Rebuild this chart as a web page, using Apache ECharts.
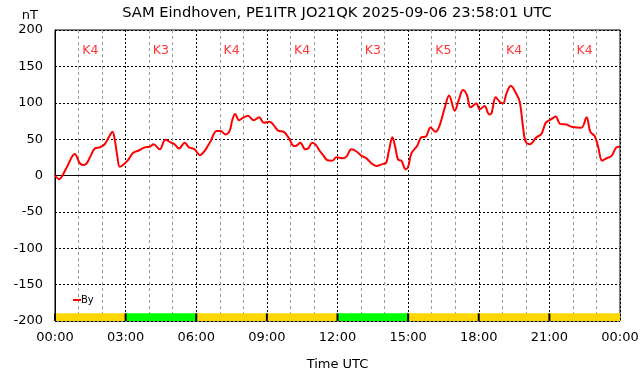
<!DOCTYPE html>
<html>
<head>
<meta charset="utf-8">
<script src="https://cdn.jsdelivr.net/npm/echarts@6/dist/echarts.min.js"></script>
<style>
  html, body { margin: 0; padding: 0; background: #fff; }
  #main { width: 642px; height: 376px; }
</style>
</head>
<body>
<div id="main"></div>
<script>
// By component (nT), time in hours UTC
var byTimes = [0, 0.17, 0.48, 0.84, 1.05, 1.19, 1.33, 1.5, 1.69, 1.9, 2.11, 2.29, 2.44, 2.54, 2.65, 2.75, 2.89,
  3.1, 3.31, 3.53, 3.81, 4.02, 4.19, 4.45, 4.69, 4.94, 5.08, 5.27, 5.51, 5.69, 5.93,
  6.15, 6.36, 6.6, 6.86, 7.03, 7.25, 7.42, 7.53, 7.65, 7.82, 7.99, 8.2, 8.44, 8.67, 8.87,
  9.12, 9.34, 9.48, 9.72, 9.94, 10.11, 10.22, 10.42, 10.63, 10.75, 10.93, 11.08, 11.24, 11.39, 11.57, 11.78,
  11.95, 12.21, 12.38, 12.59, 12.81, 13.02, 13.23, 13.44, 13.65, 13.93, 14.05, 14.19, 14.33, 14.45, 14.57, 14.71, 14.9,
  15.0, 15.14, 15.38, 15.56, 15.75, 15.95, 16.17, 16.34, 16.56, 16.74, 16.98, 17.16, 17.33, 17.5, 17.65, 17.9,
  18.04, 18.25, 18.44, 18.54, 18.72, 18.89, 19.03, 19.18, 19.36, 19.6, 19.74, 19.88, 19.99, 20.17, 20.45, 20.66, 20.85,
  21.09, 21.27, 21.45, 21.73, 21.94, 22.36, 22.58, 22.74, 22.93, 23.07, 23.24, 23.42, 23.64, 23.85, 24];
var byValues = [0, -5, 10, 29.5, 17, 14.5, 16, 26, 37, 38.7, 43, 53, 60, 49, 26, 12, 14.5,
  21, 31, 34, 38.7, 39.6, 43, 36, 49, 45, 43, 37, 45, 38.7, 36,
  28, 34, 46.5, 61, 61, 56.5, 61.6, 76, 84.5, 76, 79.5, 82, 76, 80, 72.6,
  74, 67, 61.6, 60, 51, 41, 40.5, 45, 36, 37, 45, 42, 34, 28, 21, 20.4,
  25, 23.6, 26, 36, 33, 27, 23.6, 16.7, 13, 16, 16.7, 35, 52.5, 39.6, 22, 20.4, 8.5,
  12, 30.5, 40.5, 52.5, 53.4, 66, 60, 69, 93.7, 110, 89, 104.7, 117.5, 110.6, 93.7, 99,
  91, 95.5, 84, 85.5, 107.4, 101.5, 99, 113, 123.5, 112, 101.5, 67, 46.5, 43, 52.5, 57, 72.6,
  77.6, 81, 71, 70, 67, 65.7, 80, 60, 54, 39.6, 20.4, 23.6, 27, 38.7, 39.6];

// 3-hour K index blocks
var kStarts = [0, 3, 6, 9, 12, 15, 18, 21];
var kLabels = ['K4', 'K3', 'K4', 'K4', 'K3', 'K5', 'K4', 'K4'];
var kColors = ['#ffd700', '#00ff00', '#ffd700', '#ffd700', '#00ff00', '#ffd700', '#ffd700', '#ffd700'];

var xTickLabels = ['00:00', '03:00', '06:00', '09:00', '12:00', '15:00', '18:00', '21:00', '00:00'];

var font = 'DejaVu Sans';
var kLabelY = 172;
var bandTop = -189.5;
var bandBottom = -200;

var lineData = byTimes.map(function (t, i) { return [t, byValues[i]]; });
var kData = kStarts.map(function (s, i) { return [s + 1.5, kLabelY, kLabels[i]]; });
var bandData = kStarts.map(function (s) { return [s, s + 3]; });

var myChart = echarts.init(document.getElementById('main'));
var option = {
    animation: false,
    backgroundColor: '#fff',
    textStyle: { fontFamily: font },
    title: {
        text: 'SAM Eindhoven, PE1ITR JO21QK 2025-09-06 23:58:01 UTC',
        left: 332,
        textAlign: 'center',
        top: 1,
        textStyle: { fontFamily: font, fontSize: 14.7, fontWeight: 'normal', color: '#000' }
    },
    legend: {
        data: ['By'],
        left: 68,
        top: 290,
        icon: 'rect',
        itemWidth: 8,
        itemHeight: 2,
        textStyle: { fontFamily: font, fontSize: 10, color: '#000', padding: [0, 0, 0, -5] }
    },
    grid: {
        left: 55, right: 22, top: 30, bottom: 55,
        outerBoundsMode: 'none',
        show: true, borderColor: '#000', borderWidth: 1
    },
    xAxis: {
        type: 'value',
        min: 0, max: 24, interval: 3,
        name: 'Time UTC',
        nameLocation: 'middle',
        nameGap: 37,
        nameTextStyle: { fontFamily: font, fontSize: 13, color: '#000' },
        axisLine: { show: true, lineStyle: { color: '#000', width: 1 } },
        axisTick: { show: false },
        axisLabel: {
            fontFamily: font, fontSize: 13, color: '#000', margin: 10,
            formatter: function (v) { return xTickLabels[Math.round(v / 3)]; }
        },
        splitLine: { show: true, lineStyle: { color: '#000', type: [2, 2], width: 1 } },
        minorTick: { show: false, splitNumber: 3 },
        minorSplitLine: { show: true, lineStyle: { color: '#999', type: [3, 3], width: 1 } }
    },
    yAxis: {
        type: 'value',
        min: -200, max: 200, interval: 50,
        name: 'nT',
        nameLocation: 'end',
        nameGap: 8,
        nameTextStyle: { fontFamily: font, fontSize: 13, color: '#000', align: 'right', padding: [0, 17, 0, 0] },
        axisLine: { show: true, lineStyle: { color: '#000', width: 1 } },
        axisTick: { show: false },
        axisLabel: { fontFamily: font, fontSize: 13, color: '#000', margin: 12 },
        splitLine: { show: true, lineStyle: { color: '#000', type: [2, 2], width: 1 } }
    },
    series: [
        {
            name: 'By',
            type: 'line',
            data: lineData,
            smooth: 0.35,
            showSymbol: false,
            color: '#ff0000',
            lineStyle: { color: '#ff0000', width: 2 },
            z: 5
        },
        {
            name: 'K',
            type: 'scatter',
            data: kData,
            symbolSize: 0,
            silent: true,
            label: {
                show: true,
                position: 'inside',
                formatter: function (p) { return p.value[2]; },
                fontFamily: font, fontSize: 12.5, color: '#ff0000'
            },
            z: 4
        },
        {
            name: 'band',
            type: 'custom',
            data: bandData,
            silent: true,
            renderItem: function (params, api) {
                var a = api.coord([api.value(0), bandTop]);
                var b = api.coord([api.value(1), bandBottom]);
                return {
                    type: 'group',
                    children: [
                        { type: 'rect', shape: { x: a[0], y: a[1], width: b[0] - a[0], height: b[1] - a[1] },
                          style: { fill: kColors[params.dataIndex] } },
                        { type: 'line', shape: { x1: a[0], y1: a[1], x2: a[0], y2: b[1] },
                          style: { stroke: '#000', lineWidth: 2 } }
                    ]
                };
            },
            z: 3
        }
    ]
};
myChart.setOption(option);
</script>
</body>
</html>
